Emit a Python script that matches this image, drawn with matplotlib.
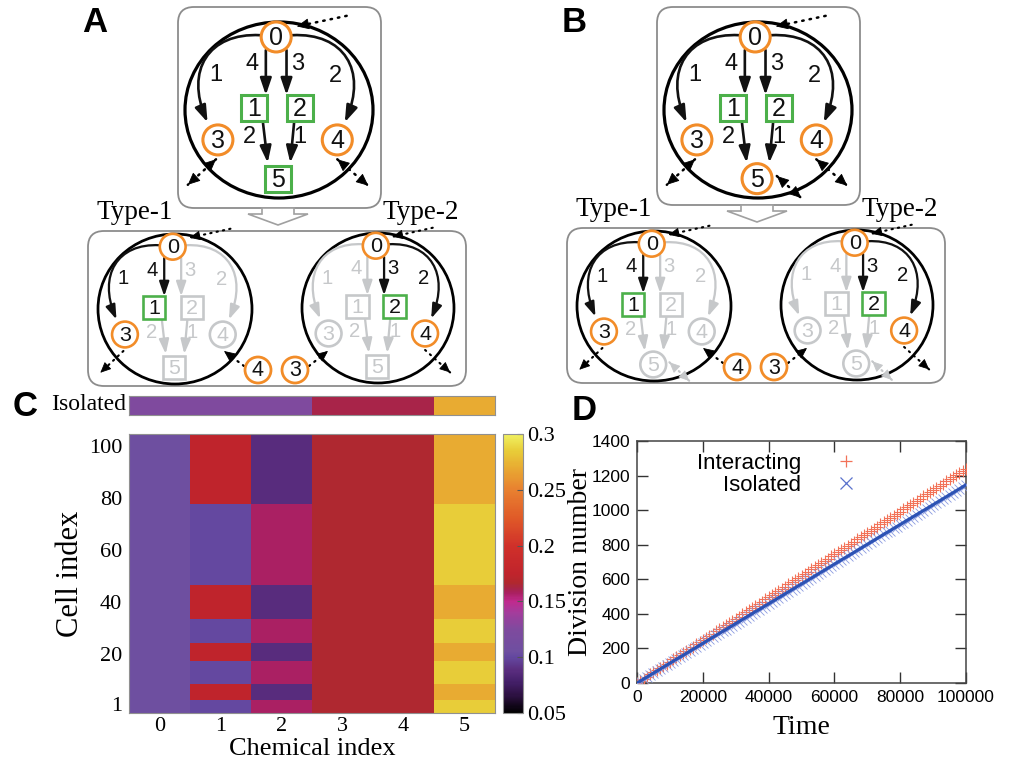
import numpy as np
import matplotlib
matplotlib.use('Agg')
import matplotlib.pyplot as plt
from matplotlib.patches import Circle, Rectangle, Ellipse, FancyBboxPatch, FancyArrowPatch, Polygon
from matplotlib.path import Path
from matplotlib.colors import LinearSegmentedColormap
from matplotlib.lines import Line2D

SERIF = 'Liberation Serif'
SANS = 'Liberation Sans'

# ---------------- data ----------------
node_labels = ['0', '1', '2', '3', '4', '5']
edges = [(0, 3, '1'), (0, 1, '4'), (0, 2, '3'), (0, 4, '2'), (1, 5, '2'), (2, 5, '1')]
type_names = ['Type-1', 'Type-2']
type1_nodes = [0, 1, 3]
type1_edges = [(0, 3), (0, 1)]
type2_nodes = [0, 2, 4]
type2_edges = [(0, 2), (0, 4)]
medium_nodes = ['4', '3']

chem_index = [0, 1, 2, 3, 4, 5]
cell_edges = [-2.5, 2.5, 8.5, 17.5, 24.5, 33.5, 46.5, 77.5, 104.5]
conc = [  # rows: cell blocks bottom -> top ; cols: chemical 0..5
    [0.105, 0.100, 0.157, 0.166, 0.166, 0.285],
    [0.105, 0.175, 0.088, 0.166, 0.166, 0.270],
    [0.105, 0.100, 0.157, 0.166, 0.166, 0.285],
    [0.105, 0.175, 0.088, 0.166, 0.166, 0.270],
    [0.105, 0.100, 0.157, 0.166, 0.166, 0.285],
    [0.105, 0.175, 0.088, 0.166, 0.166, 0.270],
    [0.105, 0.100, 0.157, 0.166, 0.166, 0.285],
    [0.105, 0.175, 0.088, 0.166, 0.166, 0.270],
]
isolated_conc = [0.125, 0.125, 0.125, 0.162, 0.162, 0.270]
cbar_ticks = [0.05, 0.1, 0.15, 0.2, 0.25, 0.3]
cbar_labels = ['0.05', '0.1', '0.15', '0.2', '0.25', '0.3']

time = np.arange(0, 100001, 1000)
interacting = [0, 12, 25, 37, 50, 62, 74, 87, 99, 112,
               124, 136, 149, 161, 174, 186, 198, 211, 223, 236,
               248, 260, 273, 285, 298, 310, 322, 335, 347, 360,
               372, 384, 397, 409, 422, 434, 446, 459, 471, 484,
               496, 508, 521, 533, 546, 558, 570, 583, 595, 608,
               620, 632, 645, 657, 670, 682, 694, 707, 719, 732,
               744, 756, 769, 781, 794, 806, 818, 831, 843, 856,
               868, 880, 893, 905, 918, 930, 942, 955, 967, 980,
               992, 1004, 1017, 1029, 1042, 1054, 1066, 1079, 1091, 1104,
               1116, 1128, 1141, 1153, 1166, 1178, 1190, 1203, 1215, 1228,
               1240]
isolated = [0, 11, 23, 34, 46, 57, 69, 80, 92, 103,
            115, 126, 138, 149, 160, 172, 183, 195, 206, 218,
            229, 241, 252, 264, 275, 287, 298, 309, 321, 332,
            344, 355, 367, 378, 390, 401, 413, 424, 435, 447,
            458, 470, 481, 493, 504, 516, 527, 539, 550, 562,
            573, 584, 596, 607, 619, 630, 642, 653, 665, 676,
            688, 699, 711, 722, 733, 745, 756, 768, 779, 791,
            802, 814, 825, 837, 848, 860, 871, 882, 894, 905,
            917, 928, 940, 951, 963, 974, 986, 997, 1008, 1020,
            1031, 1043, 1054, 1066, 1077, 1089, 1100, 1112, 1123, 1135,
            1146]
legend_labels = ['Interacting', 'Isolated']

# ---------------- figure ----------------
W, H = 1013, 761
fig = plt.figure(figsize=(W / 100, H / 100), dpi=100)


def fax(x0, y0, x1, y1):
    return fig.add_axes([x0 / W, 1 - y1 / H, (x1 - x0) / W, (y1 - y0) / H])


bg = fig.add_axes([0, 0, 1, 1])
bg.set_xlim(0, W)
bg.set_ylim(H, 0)
bg.axis('off')

ORANGE = '#f28c28'
GREEN = '#4cb04a'
GRAY = '#c6c8ca'
BOXC = '#8c8c8c'

# layout of the reaction network inside a cell (unit = cell radii)
NODE_POS = {0: (-0.03, -0.83), 1: (-0.27, -0.02), 2: (0.22, -0.02),
            3: (-0.65, 0.34), 4: (0.62, 0.34), 5: (-0.01, 0.78)}
EDGE_LABEL_POS = {(0, 3): (-0.67, -0.40), (0, 1): (-0.29, -0.52), (0, 2): (0.20, -0.52),
                  (0, 4): (0.60, -0.39), (1, 5): (-0.31, 0.31), (2, 5): (0.22, 0.31)}
EDGE_PATH = {
    (0, 1): [(-0.14, -0.68), (-0.14, -0.17)],
    (0, 2): [(0.08, -0.68), (0.08, -0.17)],
    (1, 5): [(-0.17, 0.15), (-0.12, 0.60)],
    (2, 5): [(0.16, 0.15), (0.12, 0.60)],
    (0, 3): [(-0.20, -0.85), (-0.75, -0.88), (-1.0, -0.45), (-0.76, 0.14)],
    (0, 4): [(0.14, -0.85), (0.69, -0.88), (0.94, -0.45), (0.70, 0.14)],
}
DOT = {
    'in0': ((0.72, -1.07), (0.19, -0.95)),
    'n3': ((-0.67, 0.56), (-0.97, 0.85)),
    'n4': ((0.62, 0.56), (0.95, 0.86)),
    'n5': ((0.20, 0.75), (0.46, 1.0)),
}


def arrow(ax, pts, color, lw, ms, style='-|>', hw=0.17, hl=0.5, z=4):
    st = f'{style},head_length={hl},head_width={hw}'
    if len(pts) == 2:
        a = FancyArrowPatch(pts[0], pts[1], arrowstyle=st, mutation_scale=ms, lw=lw,
                            color=color, shrinkA=0, shrinkB=0, zorder=z)
    else:
        path = Path(pts, [Path.MOVETO, Path.CURVE4, Path.CURVE4, Path.CURVE4])
        a = FancyArrowPatch(path=path, arrowstyle=st, mutation_scale=ms, lw=lw,
                            color=color, zorder=z)
    ax.add_patch(a)


def dotted_arrow(ax, tail, head, col, both, s):
    ax.plot([tail[0], head[0]], [tail[1], head[1]], color=col, lw=1.8 * s,
            ls=(0, (0.6, 2.4)), dash_capstyle='round', zorder=4)
    ends = [(tail, head)] + ([(head, tail)] if both else [])
    for a, b in ends:
        d = np.subtract(b, a, dtype=float)
        d = d / np.hypot(*d)
        p0 = tuple(np.array(b, dtype=float) - d * 9 * s)
        ax.add_patch(FancyArrowPatch(p0, tuple(b), arrowstyle='-|>,head_length=0.55,head_width=0.25',
                                     mutation_scale=14 * s, lw=0.6, color=col,
                                     shrinkA=0, shrinkB=0, zorder=4))


def node(ax, xy, label, kind, color, r, fs, lw, tcol):
    if kind == 'circle':
        ax.add_patch(Circle(xy, r, fc='white', ec=color, lw=lw, zorder=5))
    else:
        ax.add_patch(Rectangle((xy[0] - r * 0.87, xy[1] - r * 0.87), 1.74 * r, 1.74 * r,
                               fc='white', ec=color, lw=lw, zorder=5))
    ax.text(xy[0], xy[1] + 1, label, ha='center', va='center', fontsize=fs,
            color=tcol, family=SANS, zorder=6)


def draw_cell(ax, cx, cy, rx, ry, s, node5_kind, act_nodes=None, act_edges=None, dots=()):
    def U(p):
        return (cx + p[0] * rx, cy + p[1] * ry)
    ax.add_patch(Ellipse((cx, cy), 2 * rx, 2 * ry, fill=False, ec='black', lw=2.3 * s, zorder=3))
    for (a, b, w) in edges:
        act = act_edges is None or (a, b) in act_edges
        col = '#111111' if act else GRAY
        arrow(ax, [U(p) for p in EDGE_PATH[(a, b)]], col, 1.9 * s, 20 * s)
        lx, ly = U(EDGE_LABEL_POS[(a, b)])
        ax.text(lx, ly, w, ha='center', va='center', fontsize=17 * s, color=col,
                family=SANS, zorder=6)
    for i, lab in enumerate(node_labels):
        if i in (0, 3, 4):
            kind = 'circle'
        elif i in (1, 2):
            kind = 'square'
        else:
            kind = node5_kind
        act = act_nodes is None or i in act_nodes
        if act:
            col = ORANGE if kind == 'circle' else GREEN
            tcol = '#111111'
        else:
            col = GRAY
            tcol = GRAY
        node(ax, U(NODE_POS[i]), lab, kind, col, 15 * s, 18 * s, 2.2 * s, tcol)
    for key, both, col in dots:
        t, h = DOT[key]
        dotted_arrow(ax, U(t), U(h), col, both, s)


def rbox(ax, x0, y0, x1, y1):
    ax.add_patch(FancyBboxPatch((x0, y0), x1 - x0, y1 - y0,
                                boxstyle='round,pad=0,rounding_size=16',
                                fc='white', ec=BOXC, lw=1.3, zorder=1))


def hollow_arrow(ax, xc, ytop):
    pts = [(xc - 16, ytop), (xc + 16, ytop), (xc + 16, ytop + 6), (xc + 30, ytop + 6),
           (xc, ytop + 17), (xc - 30, ytop + 6), (xc - 16, ytop + 6)]
    ax.add_patch(Polygon(pts, closed=True, fc='white', ec='#a0a0a0', lw=1.2, zorder=2))


for (dx, node5_kind, ybox, letter) in [(0, 'square', 0, 'A'), (479, 'circle', -3, 'B')]:
    rbox(bg, 178 + dx, 7, 381 + dx, 208 + ybox)
    top_dots = [('in0', False, 'black'), ('n3', True, 'black'), ('n4', True, 'black')]
    if node5_kind == 'circle':
        top_dots.append(('n5', True, 'black'))
    draw_cell(bg, 279 + dx, 110, 94, 88, 1.0, node5_kind, dots=top_dots)
    hollow_arrow(bg, 278 + dx, 208 + ybox)
    rbox(bg, 88 + dx, 231 + ybox, 466 + dx, 386 + ybox)
    bg.text(135 + dx, 219 + ybox, type_names[0], ha='center', va='baseline', fontsize=19.5, family=SERIF)
    bg.text(421 + dx, 219 + ybox, type_names[1], ha='center', va='baseline', fontsize=19.5, family=SERIF)
    d1 = [('in0', False, 'black'), ('n3', False, 'black')]
    d2 = [('in0', False, 'black'), ('n4', False, 'black')]
    if node5_kind == 'circle':
        d1.append(('n5', True, GRAY))
        d2.append(('n5', True, GRAY))
    draw_cell(bg, 175 + dx, 309 + ybox, 77, 75, 0.86, node5_kind, type1_nodes, type1_edges, d1)
    draw_cell(bg, 378 + dx, 308 + ybox, 76, 75, 0.86, node5_kind, type2_nodes, type2_edges, d2)
    # medium chemicals exchanged between the two cell types
    m4 = (258 + dx, 370 + ybox)
    m3 = (295 + dx, 370 + ybox)
    node(bg, m4, medium_nodes[0], 'circle', ORANGE, 13, 15.5, 2.0, '#111111')
    node(bg, m3, medium_nodes[1], 'circle', ORANGE, 13, 15.5, 2.0, '#111111')
    dotted_arrow(bg, (m4[0] - 14, m4[1] - 4), (m4[0] - 34, m4[1] - 19), 'black', False, 0.9)
    dotted_arrow(bg, (m3[0] + 14, m3[1] - 4), (m3[0] + 33, m3[1] - 19), 'black', False, 0.9)
    bg.text(95 + dx, 22, letter, ha='center', va='center', fontsize=25, fontweight='bold', family=SANS)

bg.text(25, 407, 'C', ha='center', va='center', fontsize=25, fontweight='bold', family=SANS)
bg.text(584, 410, 'D', ha='center', va='center', fontsize=25, fontweight='bold', family=SANS)

# ---------------- panel C ----------------
stops = [(0.05, '#000000'), (0.065, '#2c1040'), (0.078, '#45206a'), (0.088, '#5a2d7e'),
         (0.100, '#6448a0'), (0.105, '#6e4fa0'), (0.125, '#7f4a9e'), (0.14, '#a43c9c'),
         (0.150, '#c02a8e'), (0.157, '#aa2062'), (0.162, '#a82448'), (0.166, '#b0282e'),
         (0.175, '#c0242c'), (0.20, '#d0302a'), (0.225, '#e05a28'), (0.25, '#e88030'),
         (0.27, '#e8aa32'), (0.285, '#e8cc38'), (0.30, '#f0f060')]
cmap = LinearSegmentedColormap.from_list('pal', [((v - 0.05) / 0.25, c) for v, c in stops])
vmin, vmax = 0.05, 0.30

xe = np.arange(len(chem_index) + 1) - 0.5

axi = fax(129, 396, 495, 415)
axi.pcolormesh(xe, [0, 1], np.array([isolated_conc]), cmap=cmap, vmin=vmin, vmax=vmax)
axi.set_xlim(-0.5, 5.5)
axi.set_xticks([])
axi.set_yticks([])
for sp in axi.spines.values():
    sp.set_color('#909090')
fig.text(126 / W, 1 - 405 / H, 'Isolated', ha='right', va='center', fontsize=17, family=SERIF)

axh = fax(129, 434, 495, 713)
mesh = axh.pcolormesh(xe, cell_edges, np.array(conc), cmap=cmap, vmin=vmin, vmax=vmax)
axh.set_xlim(-0.5, 5.5)
axh.set_ylim(cell_edges[0], cell_edges[-1])
axh.set_xticks(chem_index)
axh.set_yticks([1, 20, 40, 60, 80, 100])
axh.tick_params(axis='y', length=0, labelsize=16, pad=5)
axh.tick_params(axis='x', length=0, labelsize=16, pad=3)
for lab in axh.get_xticklabels() + axh.get_yticklabels():
    lab.set_family(SERIF)
axh.set_xlabel('Chemical index', fontsize=19, family=SERIF, labelpad=1)
axh.set_ylabel('Cell index', fontsize=22, family=SERIF, labelpad=3)
for sp in axh.spines.values():
    sp.set_color('#909090')

cax = fax(503, 434, 523, 713)
cb = fig.colorbar(mesh, cax=cax, ticks=cbar_ticks)
cb.ax.set_yticklabels(cbar_labels)
cb.ax.tick_params(direction='in', length=4, width=0.8, color='#555555', labelsize=16, pad=3)
for lab in cb.ax.get_yticklabels():
    lab.set_family(SERIF)
cb.outline.set_edgecolor('#909090')

# ---------------- panel D ----------------
axd = fax(637, 441, 966, 683)
axd.plot(time, interacting, ls='none', marker='+', ms=9, mew=0.8, color='#f27258', zorder=3)
axd.plot(time, isolated, ls='none', marker='x', ms=7.5, mew=0.6, color='#8a9ae0', zorder=4)
axd.plot(time, isolated, ls='-', lw=2.3, color='#2c52b4', zorder=5)
axd.set_xlim(0, 100000)
axd.set_ylim(0, 1400)
axd.set_xticks([0, 20000, 40000, 60000, 80000, 100000])
axd.set_yticks([0, 200, 400, 600, 800, 1000, 1200, 1400])
axd.tick_params(direction='in', length=8, width=1, top=True, right=True, labelsize=12.5,
                color='#333333', pad=5)
for lab in axd.get_xticklabels() + axd.get_yticklabels():
    lab.set_family(SANS)
for sp in axd.spines.values():
    sp.set_color('#444444')
    sp.set_linewidth(1.1)
axd.set_xlabel('Time', fontsize=20, family=SERIF, labelpad=7)
axd.set_ylabel('Division number', fontsize=20, family=SERIF, labelpad=-1)

h1 = Line2D([], [], ls='none', marker='+', ms=9, mew=0.9, color='#f27258')
h2 = Line2D([], [], ls='none', marker='x', ms=8.5, mew=0.9, color='#5a72cc')
axd.legend([h1, h2], [' ', ' '], loc='center', bbox_to_anchor=(0.645, 0.862),
           frameon=False, prop={'family': SANS, 'size': 16}, handlelength=1.0,
           handletextpad=0.0, borderaxespad=0, borderpad=0, labelspacing=0.05)
axd.text(0.498, 0.909, legend_labels[0], transform=axd.transAxes, ha='right', va='center',
         fontsize=16, family=SANS)
axd.text(0.498, 0.818, legend_labels[1], transform=axd.transAxes, ha='right', va='center',
         fontsize=16, family=SANS)

fig.savefig('out.png', dpi=100)
